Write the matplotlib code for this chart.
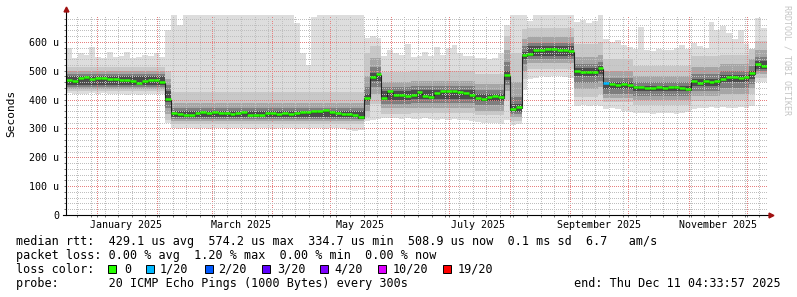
#
#   SmokePing style latency chart (last 360 days).
#

import datetime

import matplotlib

matplotlib.use("Agg")
import matplotlib.dates as mdates
import matplotlib.pyplot as plt
from matplotlib.patches import Rectangle
from matplotlib.ticker import FuncFormatter, MultipleLocator
from matplotlib.transforms import blended_transform_factory, offset_copy
import numpy as np

#
# DATA
#

start_time = datetime.datetime(2024, 12, 16, 4, 33, 57)
end_time = datetime.datetime(2025, 12, 11, 4, 33, 57)
bin_days = 3

# median rtt per 3-day bin (microseconds)
median_us = [
    465, 462, 472, 476, 470, 472, 471, 470, 468, 464, 464, 460, 456, 462, 465, 466, 458,
    398,
    350, 347, 344, 343, 352, 355, 350, 353, 351, 349, 346, 352, 355, 345, 342, 345,
    350, 351, 347, 349, 348, 351, 354, 353, 356, 358, 360, 355, 352, 348, 346, 342, 337,
    404, 476, 484, 404, 428, 412, 413, 411,
    414, 424, 410, 406, 420, 426, 428, 427, 424, 420, 414, 404, 400, 406, 408, 406,
    482, 365, 372, 552, 556, 569, 568, 572, 574, 570, 568, 566,
    496, 494, 492, 494, 506,
    456, 452, 448, 450, 446, 441, 440, 438, 437, 440, 438, 439, 440, 436, 432,
    462, 456, 460, 458, 462, 470, 474, 474, 472, 474, 488, 522, 514,
]

# slowest ping per bin (microseconds, 693 = top of graph)
max_us = [
    578, 545, 560, 555, 583, 548, 545, 566, 548, 550, 566, 545, 548, 556, 550, 560, 548,
    640,
    693, 660, 693, 693, 693, 693, 693, 693, 693, 693, 693, 693, 693, 693, 693, 693,
    693, 693, 693, 693, 693, 664, 560, 520, 687, 693, 693, 693, 693, 693, 693, 693, 693,
    615, 620, 612, 552, 570, 560, 556, 592,
    548, 550, 566, 552, 582, 556, 577, 588, 560, 552, 552, 545, 543, 542, 545, 560,
    660, 693, 693, 693, 672, 693, 693, 693, 693, 693, 693, 693,
    668, 676, 664, 672, 693,
    610, 600, 605, 590, 583, 575, 650, 572, 568, 575, 570, 573, 578, 590, 575,
    595, 585, 578, 668, 640, 655, 630, 610, 640, 592, 575, 681, 648,
]

# fastest ping per bin (microseconds)
min_us = [
    422, 420, 418, 420, 421, 419, 422, 420, 418, 420, 417, 418, 415, 418, 420, 418, 420,
    320,
    302, 298, 300, 303, 298, 301, 299, 302, 300, 298, 301, 303, 300, 297, 299, 302,
    300, 298, 301, 300, 302, 299, 301, 298, 300, 302, 299, 301, 300, 298, 296, 292, 295,
    325, 330, 332, 335, 337, 335, 333, 336,
    334, 332, 335, 333, 330, 332, 329, 331, 328, 330, 326, 322, 320, 318, 320, 316,
    328, 312, 316, 434, 470, 476, 480, 478, 482, 480, 478, 476,
    378, 380, 376, 382, 378,
    368, 370, 366, 362, 358, 355, 352, 354, 350, 352, 355, 353, 350, 352, 358,
    368, 372, 370, 374, 372, 375, 370, 372, 374, 372, 378, 460, 462,
]

# inner smoke bands, constant over runs of bins starting at seg_start
seg_start = [0, 17, 18, 51, 52, 54, 59, 70, 75, 76, 78, 79, 87, 91, 92, 97, 107, 112, 117, 118]
q10_us = [430, 330, 316, 340, 385, 350, 355, 345, 400, 325, 470, 505, 410, 420, 390, 382, 395, 400, 420, 475]
q20_us = [437, 350, 326, 360, 420, 370, 372, 362, 430, 338, 500, 525, 435, 445, 405, 398, 412, 420, 440, 490]
q30_us = [445, 370, 332, 380, 445, 386, 388, 380, 450, 350, 522, 540, 458, 465, 420, 412, 430, 440, 455, 498]
q40_us = [452, 390, 338, 395, 465, 400, 402, 395, 468, 358, 542, 552, 480, 490, 438, 428, 448, 460, 470, 505]
q60_us = [480, 430, 362, 420, 492, 428, 432, 418, 500, 385, 566, 584, 508, 515, 462, 448, 472, 484, 500, 535]
q70_us = [488, 450, 370, 445, 512, 442, 446, 434, 530, 410, 585, 597, 522, 530, 475, 460, 488, 498, 515, 548]
q80_us = [498, 470, 388, 480, 545, 462, 466, 455, 570, 460, 610, 618, 548, 555, 500, 482, 512, 522, 540, 572]
q90_us = [514, 500, 425, 560, 585, 495, 500, 490, 620, 560, 645, 648, 592, 600, 540, 518, 550, 556, 575, 602]

# bins with packet loss (index into loss_names)
loss_bins = [92]
loss_levels = [1]

loss_names = ["0", "1/20", "2/20", "3/20", "4/20", "10/20", "19/20"]
loss_colors = ["#26ff00", "#00b8ff", "#0059ff", "#5e00ff", "#7e00ff", "#dd00ff", "#ff0000"]

month_labels = [
    "January 2025",
    "March 2025",
    "May 2025",
    "July 2025",
    "September 2025",
    "November 2025",
]
month_label_dates = [
    datetime.datetime(2025, 1, 16),
    datetime.datetime(2025, 3, 16),
    datetime.datetime(2025, 5, 16),
    datetime.datetime(2025, 7, 16),
    datetime.datetime(2025, 9, 16),
    datetime.datetime(2025, 11, 16),
]

rtt_summary = "median rtt:  429.1 us avg  574.2 us max  334.7 us min  508.9 us now  0.1 ms sd  6.7   am/s"
loss_summary = "packet loss: 0.00 % avg  1.20 % max  0.00 % min  0.00 % now"
probe_text = "probe:       20 ICMP Echo Pings (1000 Bytes) every 300s"
end_text = "end: Thu Dec 11 04:33:57 2025"

ymax_us = 693

W, H = 797, 297


def use_custom_matplotlib_formatting():
    matplotlib.rcParams["font.family"] = "DejaVu Sans Mono"
    matplotlib.rcParams["font.size"] = 8.0
    matplotlib.rcParams["lines.scale_dashes"] = False


def fx(x):
    return x / W


def fy(y):
    return 1.0 - y / H


def expand_segments(values, n):
    lengths = np.diff(seg_start + [n])
    return np.repeat(np.array(values, dtype=float), lengths)


def steps(values):
    v = np.asarray(values, dtype=float)
    return np.append(v, v[-1]) * 1e-6


def plot_smoke(fig, ax):
    n = len(median_us)
    edges = mdates.date2num(start_time) + bin_days * np.arange(n + 1)

    lo_all = np.array(min_us, dtype=float)
    hi_all = np.array(max_us, dtype=float)

    layers = [
        (lo_all, hi_all, "#dddddd"),
        (q10_us, q90_us, "#c8c8c8"),
        (q20_us, q80_us, "#a6a6a6"),
        (q30_us, q70_us, "#7e7e7e"),
        (q40_us, q60_us, "#4c4c4c"),
    ]
    for lo, hi, col in layers:
        lo = np.clip(expand_segments(lo, n) if len(lo) != n else lo, lo_all, hi_all)
        hi = np.clip(expand_segments(hi, n) if len(hi) != n else hi, lo_all, hi_all)
        ax.fill_between(
            edges, steps(lo), steps(hi), step="post", color=col, lw=0, zorder=1
        )

    # median: dark step line with loss coloured bars on top
    ax.step(edges, steps(median_us), where="post", color="#202020", lw=0.8, zorder=3)

    colors = [loss_colors[0]] * n
    for b, lvl in zip(loss_bins, loss_levels):
        colors[b] = loss_colors[lvl]
    tr = offset_copy(ax.transData, fig=fig, x=0, y=0.6, units="points")
    ax.hlines(
        np.array(median_us) * 1e-6,
        edges[:-1],
        edges[1:],
        colors=colors,
        lw=1.8,
        zorder=4,
        transform=tr,
    )

    ax.set_xlim(mdates.date2num(start_time), mdates.date2num(end_time))
    ax.set_ylim(0, ymax_us * 1e-6)


def style_axes(ax):
    for sp in ax.spines.values():
        sp.set_visible(False)

    ax.xaxis.set_major_locator(mdates.MonthLocator())
    ax.xaxis.set_minor_locator(mdates.WeekdayLocator(byweekday=mdates.SU))
    ax.yaxis.set_major_locator(MultipleLocator(100e-6))
    ax.yaxis.set_minor_locator(MultipleLocator(20e-6))
    ax.yaxis.set_major_formatter(
        FuncFormatter(lambda v, p: "0" if abs(v) < 1e-9 else "%.0f u" % (v * 1e6))
    )

    # rrdtool draws its dotted grid on top of the graph
    ax.set_axisbelow(False)
    ax.grid(which="major", color=(0.9, 0.5, 0.5, 0.6), lw=0.72,
            linestyle=(0, (0.72, 1.44)), antialiased=False)
    ax.grid(which="minor", color=(0.75, 0.75, 0.75, 0.5), lw=0.72,
            linestyle=(0, (0.72, 1.44)), antialiased=False)

    ax.tick_params(
        axis="both", which="both", direction="out", length=1.5, width=0.7,
        color="#707070", labelsize=7.2, pad=3.6,
    )
    ax.tick_params(axis="x", labelbottom=False)

    # axis lines with arrow heads
    ax.plot([0, 0], [0, 1.03], transform=ax.transAxes, color="black", lw=0.8,
            clip_on=False, zorder=5)
    ax.plot([-0.004, 1.004], [0, 0], transform=ax.transAxes, color="black", lw=0.8,
            clip_on=False, zorder=5)
    ax.plot([0], [1.032], transform=ax.transAxes, marker="^", ms=3.5, color="#a01010",
            clip_on=False, zorder=6)
    ax.plot([1.006], [0], transform=ax.transAxes, marker=">", ms=3.5, color="#a01010",
            clip_on=False, zorder=6)

    trans = blended_transform_factory(ax.transData, ax.transAxes)
    for d, lab in zip(month_label_dates, month_labels):
        ax.text(mdates.date2num(d), -0.066, lab, transform=trans, ha="center",
                va="baseline", fontsize=7.2)


def draw_legend(fig):
    fs = 8.5
    fig.text(fx(11), fy(113), "Seconds", rotation=90, ha="center", va="center",
             fontsize=8)
    fig.text(fx(787), fy(60), "RRDTOOL / TOBI OETIKER", rotation=270, ha="center",
             va="center", fontsize=6, color="#c4c4c4")

    fig.text(fx(16), fy(245.3), rtt_summary, va="baseline", fontsize=fs)
    fig.text(fx(16), fy(259), loss_summary, va="baseline", fontsize=fs)
    fig.text(fx(16), fy(273), "loss color:", va="baseline", fontsize=fs)

    box_x = [108, 146, 205, 262, 320, 378, 443]
    label_x = [124, 160, 218, 277, 334.5, 392.5, 457.5]
    for bx, lx, name, col in zip(box_x, label_x, loss_names, loss_colors):
        fig.patches.append(
            Rectangle((fx(bx), fy(273)), 7.5 / W, 8.3 / H, transform=fig.transFigure,
                      facecolor=col, edgecolor="black", lw=0.7)
        )
        fig.text(fx(lx), fy(273), name, va="baseline", fontsize=fs)

    fig.text(fx(16), fy(287), probe_text, va="baseline", fontsize=fs)
    fig.text(fx(781), fy(287), end_text, va="baseline", ha="right", fontsize=fs)


#
# MAIN
#


def main():
    use_custom_matplotlib_formatting()

    fig = plt.figure(figsize=(W / 100, H / 100), dpi=100, facecolor="white")
    ax = fig.add_axes([fx(66), fy(215), 701 / W, 200 / H])
    ax.set_facecolor("white")

    plot_smoke(fig, ax)
    style_axes(ax)
    draw_legend(fig)

    fig.savefig("out.png", dpi=100, facecolor="white")


if __name__ == "__main__":
    main()
